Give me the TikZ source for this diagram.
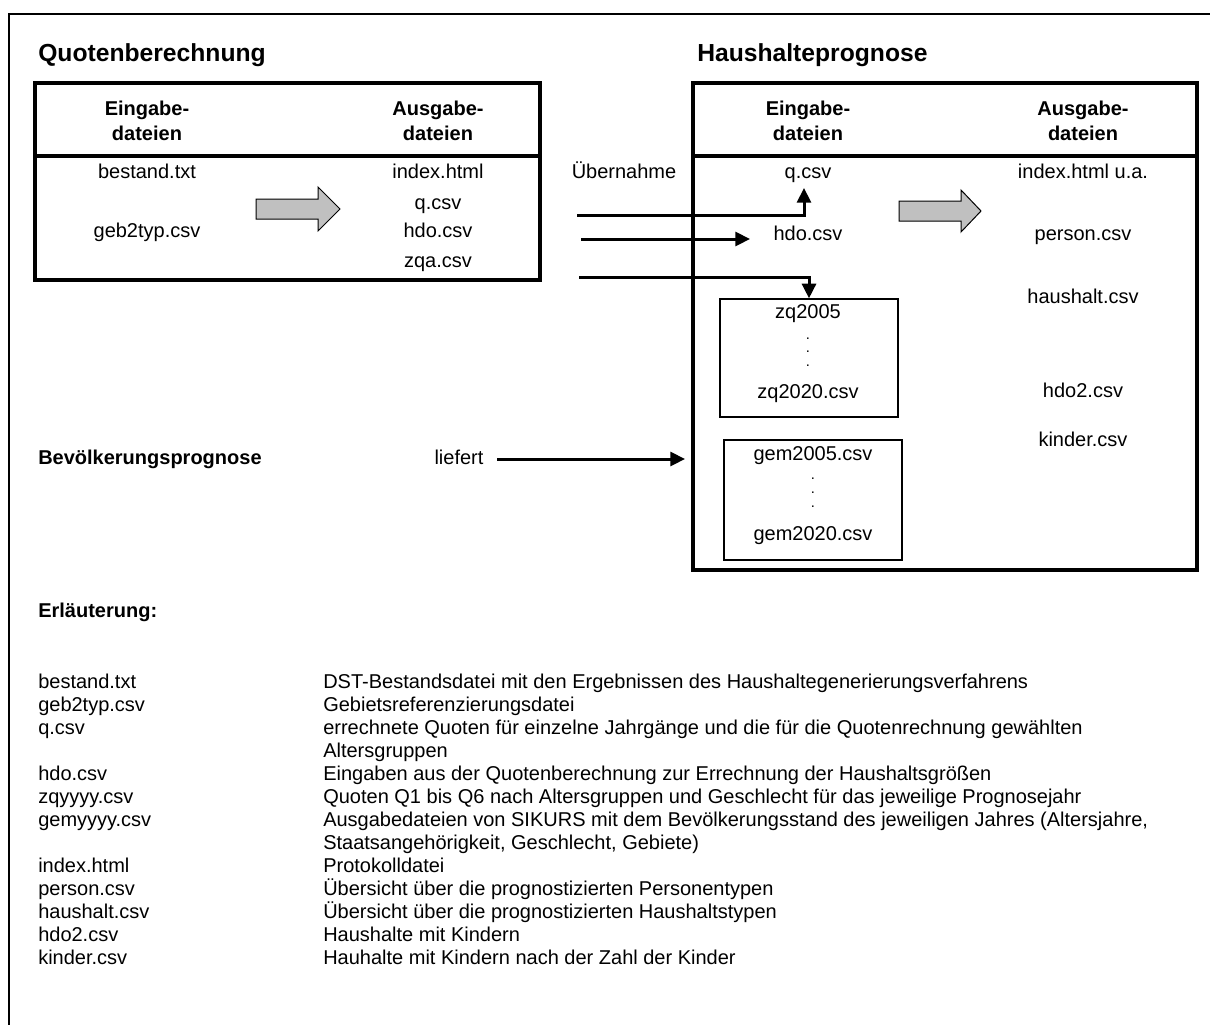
\documentclass[tikz,border=0pt]{standalone}
\usepackage{fontspec}
\setmainfont{Liberation Sans}
\usetikzlibrary{arrows.meta}
\definecolor{blockgray}{RGB}{192,192,192}
\begin{document}
\begin{tikzpicture}[x=0.75pt,y=-0.75pt,
  txt/.style={inner sep=0pt, font=\fontsize{15}{18.75}\selectfont, text height=10.8pt, text depth=3.1pt},
  head/.style={inner sep=0pt, align=center, font=\fontsize{15}{18.75}\selectfont\bfseries},
  title/.style={inner sep=0pt, anchor=west, font=\fontsize{18.5}{22}\selectfont\bfseries, text height=13.3pt, text depth=3.8pt},
  leg/.style={inner sep=0pt, anchor=west, font=\fontsize{15}{17}\selectfont, text height=10.8pt, text depth=3.1pt},
  bigbox/.style={draw, line width=3pt},
  smallbox/.style={draw, line width=1pt},
  blockarrow/.style={draw, line width=0.75pt, fill=blockgray},
  conn/.style={line width=2.25pt, -{Triangle[length=11pt,width=10.5pt]}},
  dotn/.style={inner sep=0pt, anchor=base, font=\fontsize{11}{12}\selectfont}
]
\useasboundingbox (0,0) rectangle (1210,1025);
% outer frame (top and left)
\draw[line width=1.5pt] (1210,14) -- (9,14) -- (9,1025);

% titles
\node[title] (t1) at (38,55) {Quotenberechnung};
\node[title] (t2) at (697,55) {Haushalteprognose};

% left box
\draw[bigbox] (35,83) rectangle (540,280);
\draw[line width=3pt] (35,156) -- (540,156);
\node[head] (lh1) at (147,121) {Eingabe-\\dateien};
\node[head] (lh2) at (438,121) {Ausgabe-\\dateien};
\node[txt] (bestand) at (147,173) {bestand.txt};
\node[txt] (geb) at (147,232) {geb2typ.csv};
\node[txt] (idx) at (438,173) {index.html};
\node[txt] (qout) at (438,204) {q.csv};
\node[txt] (hdoout) at (438,232) {hdo.csv};
\node[txt] (zqa) at (438,262) {zqa.csv};
\draw[blockarrow] (256,199) -- (318,199) -- (318,187) -- (340,209) -- (318,231) -- (318,219) -- (256,219) -- cycle;

\node[txt] (uebern) at (624,173) {Übernahme};

% right box
\draw[bigbox] (693,83) rectangle (1197,570);
\draw[line width=3pt] (693,156) -- (1197,156);
\node[head] (rh1) at (808,121) {Eingabe-\\dateien};
\node[head] (rh2) at (1083,121) {Ausgabe-\\dateien};
\node[txt] (qin) at (808,173) {q.csv};
\node[txt] (hdoin) at (808,235) {hdo.csv};
\node[txt] (idxr) at (1083,173) {index.html u.a.};
\node[txt] (person) at (1083,235) {person.csv};
\node[txt] (haushalt) at (1083,298) {haushalt.csv};
\node[txt] (hdotwo) at (1083,392) {hdo2.csv};
\node[txt] (kinder) at (1083,441) {kinder.csv};
\draw[blockarrow] (899,201) -- (961,201) -- (961,190) -- (981,211) -- (961,232) -- (961,221) -- (899,221) -- cycle;

% zq box
\node[smallbox, minimum width=178*0.75pt, minimum height=118*0.75pt, inner sep=0pt] (zq) at (809,358) {};
\node[txt] (zqa5) at (808,313) {zq2005};
\node[dotn] (zd1) at (808,339) {.};
\node[dotn] (zd2) at (808,352) {.};
\node[dotn] (zd3) at (808,366) {.};
\node[txt] (zqb) at (808,393) {zq2020.csv};

% gem box
\node[smallbox, minimum width=178*0.75pt, minimum height=120*0.75pt, inner sep=0pt] (gem) at (813,500) {};
\node[txt] (gema) at (813,455) {gem2005.csv};
\node[dotn] (gd1) at (813,479) {.};
\node[dotn] (gd2) at (813,493) {.};
\node[dotn] (gd3) at (813,507) {.};
\node[txt] (gemb) at (813,535) {gem2020.csv};

% Bevoelkerungsprognose
\node[txt, anchor=west, font=\fontsize{15}{18.75}\selectfont\bfseries] (bev) at (38,459) {Bevölkerungsprognose};
\node[txt] (liefert) at (459,459) {liefert};

% connectors
\coordinate (a1s) at (577,215);
\coordinate (a1e) at (804,188);
\coordinate (a2s) at (581,239);
\coordinate (a2e) at (750,239);
\coordinate (a3s) at (579,277);
\coordinate (l1) at (497,459);
\coordinate (l2) at (685,459);
\draw[conn] (a1s) -| (a1e);
\draw[conn] (a2s) -- (a2e);
\draw[conn] (a3s) -| (zq.north);
\draw[conn] (l1) -- (l2);

% legend
\node[txt, anchor=west, font=\fontsize{15}{17}\selectfont\bfseries] (erl) at (38,612) {Erläuterung:};
\foreach \i/\a/\b in {
 0/bestand.txt/DST-Bestandsdatei mit den Ergebnissen des Haushaltegenerierungsverfahrens,
 1/geb2typ.csv/Gebietsreferenzierungsdatei,
 2/q.csv/errechnete Quoten für einzelne Jahrgänge und die für die Quotenrechnung gewählten,
 3//Altersgruppen,
 4/hdo.csv/Eingaben aus der Quotenberechnung zur Errechnung der Haushaltsgrößen,
 5/zqyyyy.csv/Quoten Q1 bis Q6 nach Altersgruppen und Geschlecht für das jeweilige Prognosejahr,
 6/gemyyyy.csv/{Ausgabedateien von SIKURS mit dem Bevölkerungsstand des jeweiligen Jahres (Altersjahre,},
 7//{Staatsangehörigkeit, Geschlecht, Gebiete)},
 8/index.html/Protokolldatei,
 9/person.csv/Übersicht über die prognostizierten Personentypen,
 10/haushalt.csv/Übersicht über die prognostizierten Haushaltstypen,
 11/hdo2.csv/Haushalte mit Kindern,
 12/kinder.csv/Hauhalte mit Kindern nach der Zahl der Kinder}
{
  \node[leg] (k\i) at (38,683+23*\i) {\a};
  \node[leg] (d\i) at (323,683+23*\i) {\b};
}
\end{tikzpicture}
\end{document}
